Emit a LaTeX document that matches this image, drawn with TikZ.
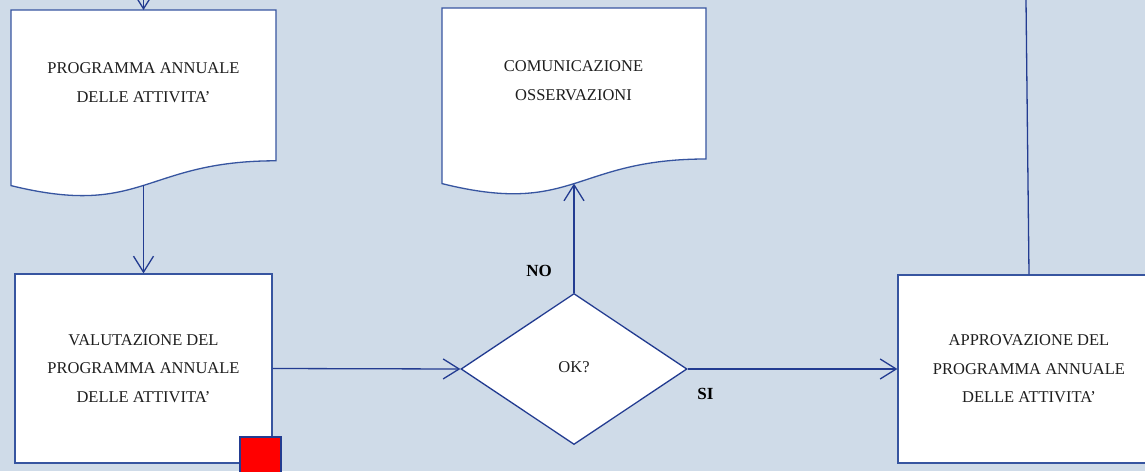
\documentclass[tikz,border=0pt]{standalone}
\usepackage{fontspec}
\setmainfont{Liberation Serif}
\usetikzlibrary{arrows.meta,shapes.geometric}
\definecolor{bg}{RGB}{207,219,232}
\definecolor{ln}{RGB}{35,60,145}
\definecolor{bd}{RGB}{55,85,160}
\definecolor{tx}{RGB}{30,30,30}
\begin{document}
\begin{tikzpicture}[x=1pt,y=-1pt,
  conn/.style={draw=ln,line width=1.3pt},
  arr/.style={conn,-{Straight Barb[length=16pt,width=20pt,line width=1.3pt]}},
  txt/.style={inner sep=0pt,align=center,text=tx,font=\fontsize{16.5}{28.5}\selectfont},
  box/.style={txt,draw=bd,fill=white,line width=1.3pt,rectangle},
  lbl/.style={inner sep=0pt,text=black,font=\fontsize{17}{20}\selectfont\bfseries},
  docshape/.style={draw=bd,fill=white,line width=1.3pt}]
\fill[bg] (0,0) rectangle (1145,471);
\useasboundingbox (0,0) rectangle (1145,471);
\clip (0,0) rectangle (1145,471);

% documents
\draw[docshape] (11,10) -- (276,10) -- (276,160.8) .. controls (143.5,160.8) and (143.5,218.2) .. (11,185.6) -- cycle;
\node[txt] (d1) at (143.5,82.5) {PROGRAMMA ANNUALE\\DELLE ATTIVITA’};
\coordinate (d1top) at (143.5,10);
\coordinate (d1bot) at (143.5,185.4);
\coordinate (in1) at (143.5,-12);

\draw[docshape] (442,8) -- (706,8) -- (706,159) .. controls (574,159) and (574,216.5) .. (442,183.6) -- cycle;
\node[txt] (d2) at (573.5,80.5) {COMUNICAZIONE\\OSSERVAZIONI};
\coordinate (d2bot) at (574,183.6);

% process boxes
\node[box,minimum width=257pt,minimum height=189pt] (v) at (143.5,368.5) {VALUTAZIONE DEL\\PROGRAMMA ANNUALE\\DELLE ATTIVITA’};
\node[draw=ln,fill=red,line width=1.3pt,minimum width=41pt,minimum height=41pt,inner sep=0pt] (flag) at (260.5,457.5) {};

\node[box,minimum width=262pt,minimum height=188pt] (a) at (1029,369) {APPROVAZIONE DEL\\PROGRAMMA ANNUALE\\DELLE ATTIVITA’};
\coordinate (out) at (1026,0);

% decision
\node[txt,diamond,draw=ln,fill=white,line width=1.3pt,minimum width=226pt,minimum height=151pt] (dec) at (574,369) {\raisebox{3pt}{OK?}};

% connectors
\draw[arr] (in1) -- (d1top);
\draw[arr] (d1bot) -- (v.north);
\draw[arr] (v.east) -- (dec.west);
\draw[arr] (dec.north) -- (d2bot);
\draw[arr] (dec.east) -- (a.west);
\draw[conn] (a.north) -- (out);

% labels
\node[lbl] (no) at (539,271) {NO};
\node[lbl] (si) at (705.5,394) {SI};
\end{tikzpicture}
\end{document}
